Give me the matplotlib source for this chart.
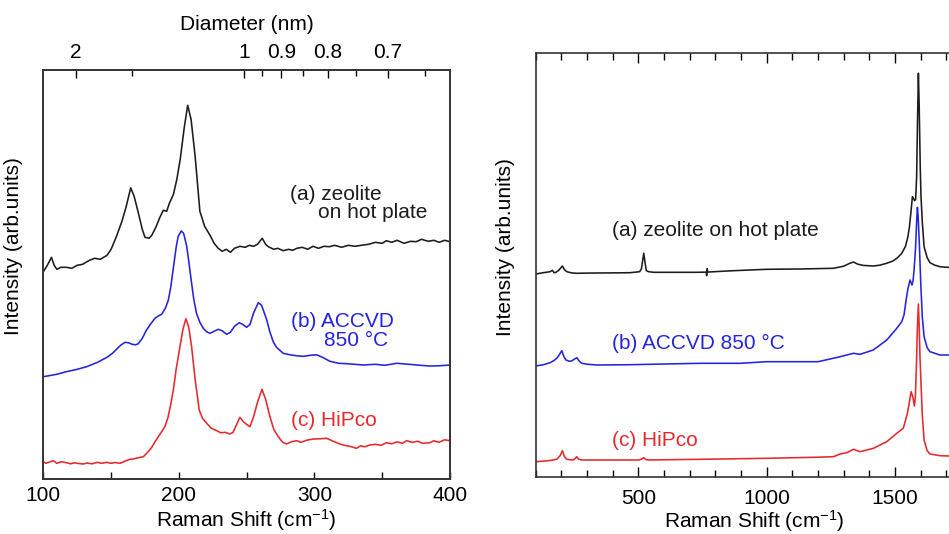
import numpy as np
import matplotlib
matplotlib.use("Agg")
import matplotlib.pyplot as plt
from matplotlib.ticker import FixedLocator, MultipleLocator

plt.rcParams['font.family'] = ['Liberation Sans', 'DejaVu Sans']
plt.rcParams['font.size'] = 15
plt.rcParams['mathtext.fontset'] = 'custom'
plt.rcParams['mathtext.rm'] = 'Liberation Sans'
plt.rcParams['mathtext.it'] = 'Liberation Sans:italic'

# ---- left panel: RBM region (intensity in arb. units, offset traces) ----
rbm_a_x = [100, 103, 106, 108, 110, 113, 117, 121, 125, 129, 134, 138, 142, 147, 150, 154, 158, 161,
           164.5, 167, 170, 173, 175, 178, 180, 183, 186, 188.5, 191, 193, 196, 198.5, 201, 204, 206.5,
           209, 212, 215.5, 219, 223, 226, 229, 232, 235, 238, 241, 245, 249, 252, 255, 258, 261.5, 264,
           266, 270, 273, 277, 281, 284, 287, 291, 295, 299, 303, 307, 311, 315, 320, 325, 330, 336, 340,
           345, 350, 353, 357, 361, 366, 371, 375, 379, 384, 388, 392, 396, 400]
rbm_a_y = [207.6, 214, 222, 214, 210, 212, 212, 211, 214, 215, 219, 221, 220, 224, 230, 243, 258, 272,
           291.5, 283, 267, 250, 242, 241, 244, 252, 262, 269, 268, 276, 285, 300, 320, 352, 374,
           360, 323, 268, 253, 244, 236, 231, 228, 230, 227, 231, 233, 232, 234, 233, 235, 241, 235,
           232.6, 230, 231, 228.6, 230, 229, 231, 232, 230, 233, 231, 233, 232.6, 234, 232, 234, 233, 234.3, 235,
           237, 236, 238.6, 237, 239, 236, 238, 237.6, 240, 238, 239, 237, 239, 237.6]

rbm_b_x = [100, 110, 117, 125, 132, 140, 147, 151, 154, 157, 160.3, 163, 165.5, 168, 170, 173, 176, 179,
           182.4, 185, 187.3, 190, 192.2, 194, 196, 198, 199.5, 201.8, 203.5, 205.8, 207.5, 209.4, 211,
           213, 215.5, 218, 220.5, 223, 226, 229, 232, 235.2, 238, 241, 244.6, 247, 250, 252.5, 255,
           258.6, 261, 264.7, 267, 269.6, 272, 277, 282, 287, 292, 297, 301.6, 306, 311.4, 318, 325,
           336, 345, 352, 360.6, 370, 378, 385.2, 392, 400]
rbm_b_y = [102.6, 105, 107.6, 110, 112.6, 117, 122, 126, 130, 134, 137, 136.5, 135, 134.5, 135.5, 141, 149, 155,
           161, 163.5, 165, 171, 179, 192, 212, 232, 243, 248.3, 246, 233, 216, 196, 180,
           166, 157, 151, 147.5, 146, 148, 150, 148.5, 145, 147, 153, 156.6, 155, 152, 155, 166,
           176.6, 174, 160, 148, 137.6, 132, 126, 124.5, 123.5, 123, 124, 124.5, 122, 118, 116, 115.5,
           114.3, 115, 114, 116, 115, 114, 113.3, 113.5, 114.3]

rbm_c_x = [100, 102, 104, 107.4, 110, 113, 117.3, 120, 123, 126, 129.5, 132, 136, 140, 143, 146.7, 150,
           153, 156.6, 160, 163.9, 167, 170, 173.8, 177, 180, 182.4, 186, 189.7, 192, 194, 195.9, 198,
           200.8, 203, 205.2, 207.3, 209.4, 212, 215, 217.5, 220.5, 224, 227.9, 231, 234, 237.7, 240,
           242, 245, 248, 252.4, 255, 258, 261.3, 264, 267.2, 270, 273.3, 276.5, 279.5, 283, 286.9, 290,
           294, 299.1, 304, 309, 314, 318.8, 322, 326, 331.1, 334, 337, 341, 345, 349, 353.2, 357, 361,
           365, 368, 372, 376, 380, 385.2, 388, 392, 396, 400]
rbm_c_y = [17.6, 16, 17, 18.6, 16, 17.5, 16.6, 15.5, 16.5, 15.8, 15.3, 16.2, 15.5, 17, 16, 17, 16,
           16.8, 16, 18, 20, 20.5, 21.5, 22.6, 27, 32, 37.6, 45, 52.6, 62, 75, 89.3, 110,
           132.6, 150, 160.6, 152, 132.6, 100, 69.3, 61, 56, 51, 48.6, 46.5, 47, 45.3, 47,
           53, 62, 57, 52.6, 62, 77, 90, 80, 62.6, 50, 42.6, 37, 35.3, 37.5, 38.6, 37,
           39, 40.3, 40.5, 41, 38, 35.3, 34, 33, 31, 33.5, 32.5, 34.3, 35, 34, 36.6, 35.5, 37.5,
           36, 38.6, 37, 38, 36, 36.6, 38.5, 37, 39.5, 38.6]

# diameter axis (nm) on top, d = 248 / shift
diam_major = [2, 1, 0.9, 0.8, 0.7]
diam_minor = [1.5, 0.95, 0.85, 0.75, 0.65]

# ---- right panel: full spectra ----
full_a_x = [100, 130, 156, 165, 172, 179, 190, 204, 212, 221, 240, 260, 300, 338, 400, 467, 505, 512, 516,
            521, 526, 531, 540, 560, 650, 727, 764, 766, 768, 770, 780, 870, 1000, 1130, 1260, 1300, 1320,
            1337.5, 1355, 1375, 1415, 1440, 1467, 1490, 1507, 1525, 1540, 1550, 1556, 1562, 1567.5, 1572,
            1576, 1580, 1584, 1587, 1590.8, 1594, 1598, 1601, 1606, 1613, 1625, 1636, 1655, 1675, 1700,
            1750, 1800]
full_a_y = [202.7, 204, 205, 206.4, 204, 204.4, 206.5, 210.7, 207, 205, 203.8, 203.4, 203.6, 203.7, 203.8, 204, 205, 208, 215,
            223.4, 214, 206, 205, 204.4, 204.4, 204.4, 204.6, 201, 208, 204.6, 204.8, 206, 207.4, 207.7, 208.4, 210.5, 213,
            214.7, 212.5, 211.3, 210.7, 211.5, 213.4, 215.5, 218.4, 223, 230, 240, 250, 265, 280, 278,
            276, 277, 300, 350, 403.4, 370, 310, 280, 255, 230, 219, 214, 211.5, 210, 209.4,
            209.2, 209]

full_b_x = [100, 130, 156, 170, 182, 192, 201.6, 210, 218, 230, 240.5, 250, 260, 270, 279.5, 300, 338, 467,
            740, 896, 1000, 1200, 1286, 1312, 1337.5, 1363.6, 1415, 1467.7, 1506.6, 1526, 1535, 1543,
            1550, 1558.4, 1566, 1570, 1574, 1580, 1584, 1587, 1590, 1595, 1600, 1606, 1613, 1625, 1636,
            1675, 1710, 1800]
full_b_y = [110.7, 112, 114, 116, 118.4, 122, 126, 120, 116.7, 115.5, 115.7, 117.5, 119, 115.5, 113.4, 112.5, 111.7, 112,
            113.4, 113.4, 115, 115, 120, 121.7, 123.4, 122.4, 126.7, 136.7, 148.4, 155, 162, 176.7,
            188, 196.7, 191.7, 196, 206.7, 230, 255, 269.4, 260, 230, 193.4, 160, 140, 129, 125,
            121.7, 121.7, 121.5]

full_c_x = [100, 150, 182, 195, 204, 212, 221, 235, 247, 253, 260, 267, 279.5, 338, 500, 512, 521, 530, 540,
            740, 1000, 1200, 1260, 1286, 1312, 1337.5, 1363.6, 1415.5, 1467.7, 1506.6, 1532, 1548, 1556,
            1562.4, 1569, 1575.3, 1579, 1583, 1587, 1590.8, 1594, 1597, 1601, 1606, 1613, 1625, 1636,
            1675, 1710, 1800]
full_c_y = [15, 16, 17.4, 21, 26, 20, 17.4, 17, 16.7, 18, 20, 17.5, 16.7, 16.7, 16.7, 17.5, 19, 17, 16.7,
            17.4, 18.4, 19.5, 20, 22.7, 24, 27.4, 25, 28.4, 35, 43.4, 48.4, 63.4, 75,
            85, 80, 70.7, 80, 110, 150, 172.7, 150, 120, 93.4, 62, 36.7, 26, 22.7,
            21, 20.7, 20.5]

black = '#1c1c1c'
blue = '#2424dc'
red = '#e8282c'

fig = plt.figure(figsize=(9.49, 5.34), dpi=100)
W, H = 949.0, 534.0

# left axes
ax1 = fig.add_axes([43.3 / W, 1 - 479.3 / H, 406.7 / W, 409.3 / H])
ax1.plot(rbm_a_x, rbm_a_y, color=black, lw=1.15)
ax1.plot(rbm_b_x, rbm_b_y, color=blue, lw=1.15)
ax1.plot(rbm_c_x, rbm_c_y, color=red, lw=1.15)
ax1.set_xlim(100, 400)
ax1.set_ylim(0, 409.3)
ax1.set_yticks([])
ax1.xaxis.set_major_locator(FixedLocator([100, 200, 300, 400]))
ax1.xaxis.set_minor_locator(FixedLocator([150, 250, 350]))
ax1.tick_params(axis='x', which='both', direction='in', top=False, pad=5, labelsize=15)
ax1.tick_params(axis='x', which='major', length=5, width=1)
ax1.tick_params(axis='x', which='minor', length=5, width=1)
ax1.set_xlabel(r'Raman Shift (cm$^{-1}$)', labelpad=1)
ax1.set_ylabel('Intensity (arb.units)')
ax1.yaxis.set_label_coords(-0.05, 0.57)

top = ax1.twiny()
top.set_xlim(100, 400)
top.xaxis.set_major_locator(FixedLocator([248.0 / d for d in diam_major]))
top.xaxis.set_minor_locator(FixedLocator([248.0 / d for d in diam_minor]))
top.set_xticklabels([f'{d:g}' for d in diam_major])
top.tick_params(axis='x', which='both', direction='in', pad=6, labelsize=15)
top.tick_params(axis='x', which='major', length=6, width=1)
top.tick_params(axis='x', which='minor', length=4, width=1)
top.set_xlabel('Diameter (nm)', labelpad=9)

ax1.text(281.9, 284.3, '(a) zeolite', color=black, va='center', ha='left')
ax1.text(302.6, 266.3, 'on hot plate', color=black, va='center', ha='left')
ax1.text(282.7, 157.6, '(b) ACCVD', color=blue, va='center', ha='left')
ax1.text(307.0, 138.3, '850 °C', color=blue, va='center', ha='left')
ax1.text(282.7, 58.6, '(c) HiPco', color=red, va='center', ha='left')

# right axes (extends past the figure edge, as in the source)
ax2 = fig.add_axes([535.7 / W, 1 - 476.7 / H, 1700 * 0.2567 / W, 423.4 / H])
ax2.plot(full_a_x, full_a_y, color=black, lw=1.15)
ax2.plot(full_b_x, full_b_y, color=blue, lw=1.15)
ax2.plot(full_c_x, full_c_y, color=red, lw=1.15)
ax2.set_xlim(100, 1800)
ax2.set_ylim(0, 423.4)
ax2.set_yticks([])
ax2.xaxis.set_major_locator(FixedLocator([500, 1000, 1500]))
ax2.xaxis.set_minor_locator(MultipleLocator(100))
ax2.tick_params(axis='x', which='both', direction='in', top=True, pad=9, labelsize=15)
ax2.tick_params(axis='x', which='major', length=7, width=1)
ax2.tick_params(axis='x', which='minor', length=5, width=1)
ax2.set_xlabel(r'Raman Shift (cm$^{-1}$)', labelpad=0)
ax2.set_ylabel('Intensity (arb.units)')
ax2.yaxis.set_label_coords(-0.048, 0.5425)

ax2.text(396, 246.7, '(a) zeolite on hot plate', color=black, va='center', ha='left')
ax2.text(396, 133.7, '(b) ACCVD 850 °C', color=blue, va='center', ha='left')
ax2.text(396, 36.7, '(c) HiPco', color=red, va='center', ha='left')

for a in (ax1, ax2, top):
    for s in a.spines.values():
        s.set_color('#333333')
        s.set_linewidth(1.2)

fig.savefig('out.png', dpi=100)
